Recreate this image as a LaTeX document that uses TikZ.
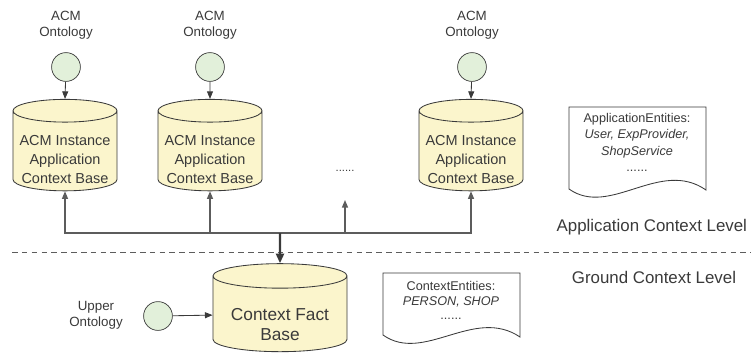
\documentclass[tikz,border=0pt]{standalone}
\usepackage{fontspec}
\setmainfont{Liberation Sans}
\usetikzlibrary{arrows.meta,shapes.geometric}
\definecolor{grau}{HTML}{3A3A3A}
\definecolor{hgrau}{HTML}{5C5C5C}
\definecolor{gelbl}{HTML}{FBF5CC}
\definecolor{gruenl}{HTML}{E2F0DA}
% text block inside a cylinder, moved down into the body
\newcommand{\tiefer}[2]{\raisebox{-#1}[\height][\depth]{\begin{tabular}{@{}c@{}}#2\end{tabular}}}
\tikzset{
  pf/.style={-{Triangle[length=1.9mm,width=1.5mm]},grau,line width=0.6pt},
  bus/.style={-{Triangle[length=1.9mm,width=1.5mm]},hgrau,line width=0.9pt},
  onto/.style={circle,draw=grau,fill=gruenl,line width=0.5pt,minimum size=7.2mm,inner sep=0pt},
  db/.style={cylinder,shape border rotate=90,aspect=0.25,draw=grau,fill=gelbl,line width=0.6pt,
    minimum width=26mm,minimum height=21.75mm,inner sep=0pt,
    font=\fontsize{10.3}{13.5}\selectfont,text=grau},
  lbl/.style={align=center,font=\fontsize{9.5}{11.3}\selectfont,text=grau},
  doku/.style={draw=grau,fill=white,line width=0.6pt},
  doktxt/.style={align=center,anchor=north,font=\fontsize{9}{11.7}\selectfont,text=grau},
  ebene/.style={anchor=east,font=\fontsize{12}{14}\selectfont,text=grau},
  trenn/.style={hgrau,line width=0.6pt,dash pattern=on 4pt off 3pt},
}
\begin{document}
\begin{tikzpicture}[x=0.025cm,y=-0.025cm]
  \useasboundingbox (0,0) rectangle (751,358);
  % application context level
  \node[lbl] (t1) at (66,25) {ACM\\Ontology};
  \node[lbl] (t2) at (210,25) {ACM\\Ontology};
  \node[lbl] (t3) at (472,25) {ACM\\Ontology};
  \node[onto] (o1) at (66,67) {};
  \node[onto] (o2) at (210,67) {};
  \node[onto] (o3) at (472,67) {};
  \node[db] (c1) at (65,151) {\tiefer{7pt}{ACM Instance\\Application\\Context Base}};
  \node[db] (c2) at (210,151) {\tiefer{7pt}{ACM Instance\\Application\\Context Base}};
  \node[db] (c3) at (471,151) {\tiefer{7pt}{ACM Instance\\Application\\Context Base}};
  \draw[pf] (o1) -- (c1.north);
  \draw[pf] (o2) -- (c2.north);
  \draw[pf] (o3) -- (c3.north);
  \node[text=grau,font=\fontsize{8}{9}\selectfont] (punkte) at (345,171) {......};
  \draw[doku] (569,189) -- (569,107) -- (706,107) -- (706,190)
    .. controls (660,158) and (610,218) .. cycle;
  \node[doktxt] (ae) at (637,108) {ApplicationEntities:\\\textit{User, ExpProvider,}\\\textit{ShopService}\\......};
  \node[ebene] (acl) at (752,227) {Application Context Level};
  % bus
  \coordinate (ab) at (280,233);
  \coordinate (frei) at (345,200);
  \draw[bus] (ab) -| (c1.south);
  \draw[bus] (ab) -| (c2.south);
  \draw[bus] (ab) -| (frei);
  \draw[bus] (ab) -| (c3.south);
  \draw[trenn] (12,252) -- (751,252);
  % ground context level
  \node[ebene] (gcl) at (741,277) {Ground Context Level};
  \node[db,minimum width=33.5mm,minimum height=22mm,font=\fontsize{12.3}{14}\selectfont] (fb) at (280,314) {\tiefer{9pt}{Context Fact\\Base}};
  \draw[-{Triangle[length=2.4mm,width=2mm]},grau,line width=1.6pt] (ab) -- (fb.north);
  \node[lbl] (uol) at (96,315) {Upper\\Ontology};
  \node[onto] (uo) at (158,316) {};
  \draw[pf] (uo) -- (fb);
  \draw[doku] (383,335) -- (383,273) -- (520,273) -- (520,337)
    .. controls (474,306) and (424,364) .. cycle;
  \node[doktxt,font=\fontsize{9}{10.6}\selectfont] (ce) at (451,276) {ContextEntities:\\\textit{PERSON, SHOP}\\......};
\end{tikzpicture}
\end{document}
